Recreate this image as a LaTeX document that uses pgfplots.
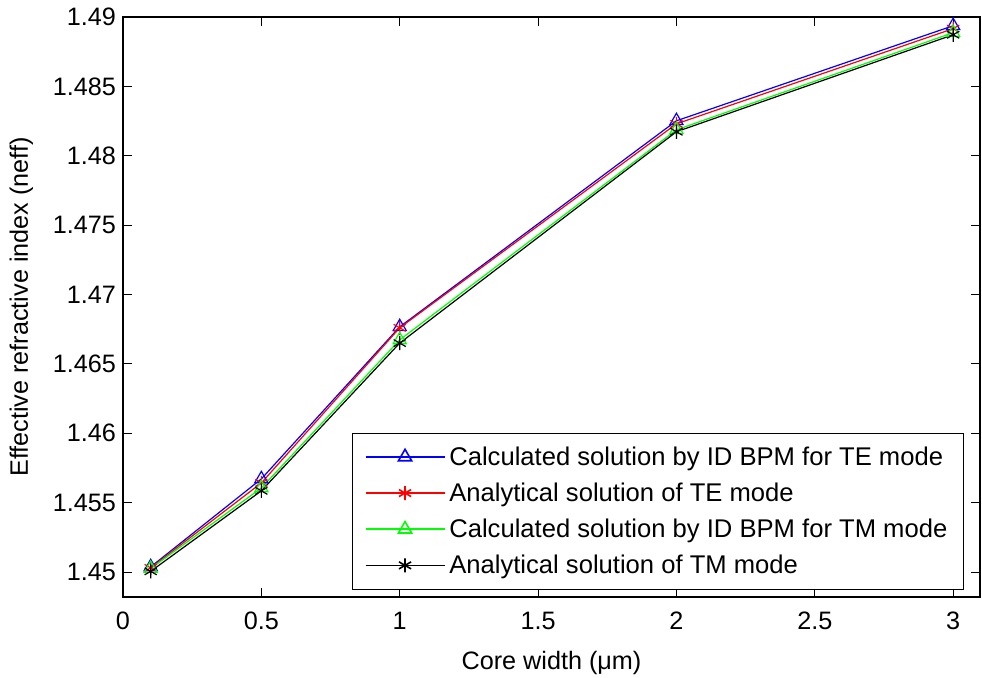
\documentclass[border=0pt]{standalone}
\usepackage{fontspec}
\setmainfont{Liberation Sans}
\usepackage{pgfplots}
\pgfplotsset{compat=1.18}
\begin{document}
\begin{tikzpicture}
\begin{axis}[
  scale only axis, width=428.5pt, height=290pt,
  xmin=0, xmax=3.097, ymin=1.4482, ymax=1.49,
  xtick={0,0.5,1,1.5,2,2.5,3},
  ytick={1.45,1.455,1.46,1.465,1.47,1.475,1.48,1.485,1.49},
  tick align=inside, major tick length=4.5pt,
  every tick/.style={black, line width=0.5pt},
  axis line style={line width=0.6pt},
  tick label style={font=\fontsize{12.6}{14}\selectfont},
  label style={font=\fontsize{12.6}{14}\selectfont},
  /pgf/number format/assume math mode=true,
  yticklabel style={/pgf/number format/.cd, fixed, precision=3},
  xticklabel style={yshift=-4pt, /pgf/number format/.cd, fixed, precision=1},
  scaled y ticks=false,
  xlabel={Core width (μm)},
  ylabel={Effective refractive index (neff)},
  xlabel style={yshift=-4pt},
  ylabel style={yshift=3pt},
  legend cell align=left,
  legend image code/.code={\draw[line width=0.8pt, mark repeat=2,mark phase=2] plot coordinates {(0pt,0.25pt) (19.75pt,0.25pt) (39.5pt,0.25pt)};},
  legend style={at={(rel axis cs:0.981,0.012)}, anchor=south east,
    font=\fontsize{12.8}{14}\selectfont, draw=black,
    row sep=3.3pt, inner xsep=6pt, inner ysep=4.5pt,
    /tikz/every even column/.append style={column sep=2pt}},
  every axis plot/.append style={line width=0.6pt},
]
\addplot[blue, mark=triangle, mark size=3.8pt] coordinates {(0.1,1.45037) (0.5,1.45671) (1,1.46767) (2,1.48252) (3,1.48937)};
\addlegendentry{Calculated solution by ID BPM for TE mode}
\addplot[red, mark=asterisk, mark size=3.5pt] coordinates {(0.1,1.45030) (0.5,1.45642) (1,1.46760) (2,1.48230) (3,1.48916)};
\addlegendentry{Analytical solution of TE mode}
\addplot[green, mark=triangle, mark size=3.8pt] coordinates {(0.1,1.45025) (0.5,1.45606) (1,1.46673) (2,1.48187) (3,1.48887)};
\addlegendentry{Calculated solution by ID BPM for TM mode}
\addplot[black, mark=asterisk, mark size=3.5pt] coordinates {(0.1,1.45005) (0.5,1.45585) (1,1.46650) (2,1.48173) (3,1.48872)};
\addlegendentry{Analytical solution of TM mode}
\coordinate (bl) at (rel axis cs:0,0);
\coordinate (tr) at (rel axis cs:1,1);
\end{axis}
\pgfresetboundingbox
\path ([xshift=-61.5pt,yshift=-40pt]bl) rectangle ([xshift=1pt,yshift=8.5pt]tr);
\end{tikzpicture}
\end{document}
